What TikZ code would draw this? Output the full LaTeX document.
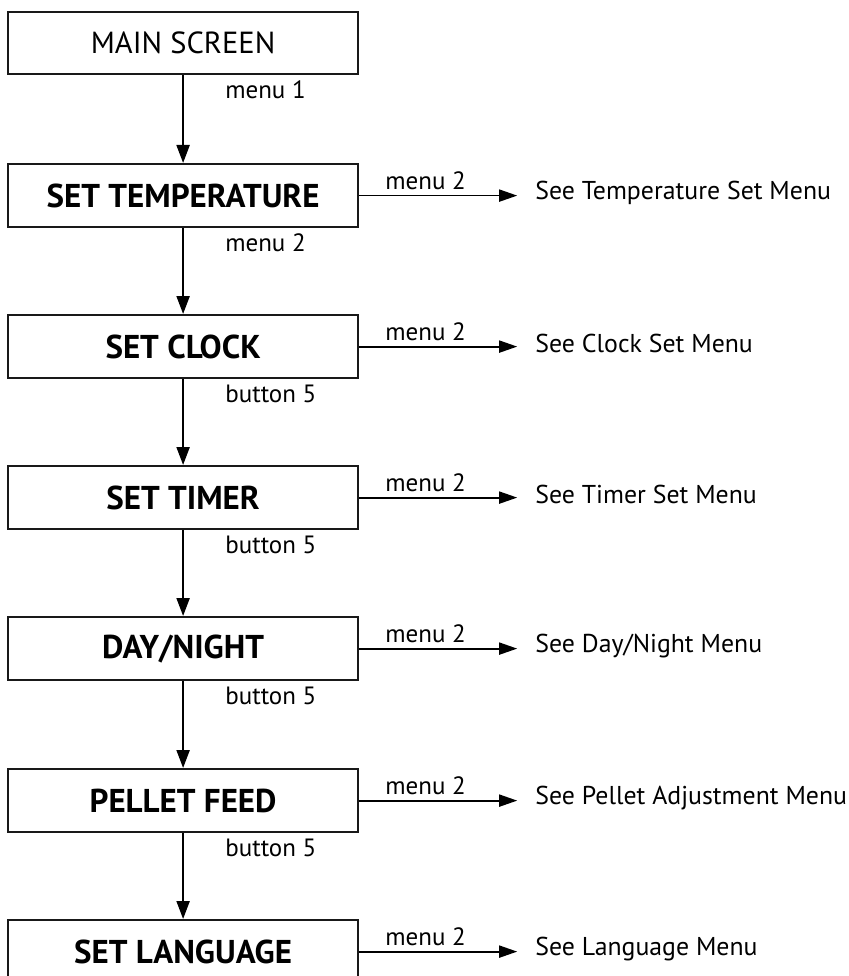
\documentclass[tikz,border=0pt]{standalone}
\usepackage{fontspec}
\setmainfont{PT Sans}
\usetikzlibrary{calc,arrows.meta}
\begin{document}
\begin{tikzpicture}[x=1pt,y=-1pt,
  stepbox/.style={draw=black!90, line width=2.2pt, minimum width=350pt, minimum height=63pt, inner sep=0pt, anchor=north west, font=\fontsize{33}{38}\selectfont\bfseries},
  mainbox/.style={stepbox, minimum height=62pt, font=\fontsize{30.5}{35}\selectfont},
  lab/.style={inner sep=0pt, anchor=base west, font=\fontsize{25}{28}\selectfont},
  side/.style={inner sep=0pt, anchor=west, font=\fontsize{25.8}{30}\selectfont},
  down/.style={line width=2.2pt, -{Triangle[length=18pt,width=13pt]}},
  right/.style={line width=1.8pt, -{Triangle[length=18pt,width=12pt]}, shorten >=18pt}
]
\useasboundingbox (0,0) rectangle (848,976);
\clip (0,0) rectangle (848,976);
\node[mainbox] (b0) at (7,11) {MAIN SCREEN};
\node[stepbox] (b1) at (7,163) {SET TEMPERATURE};
\node[stepbox] (b2) at (7,314) {SET CLOCK};
\node[stepbox] (b3) at (7,465) {SET TIMER};
\node[stepbox] (b4) at (7,616) {DAY/NIGHT};
\node[stepbox] (b5) at (7,768) {PELLET FEED};
\node[stepbox] (b6) at (7,919) {SET LANGUAGE};

\foreach \a/\b/\t in {b0/b1/menu 1,b1/b2/menu 2,b2/b3/button 5,b3/b4/button 5,b4/b5/button 5,b5/b6/button 5}{
  \draw[down] (\a.south) -- (\b.north);
  \node[lab] (l\a) at ($(\a.south)+(42,23)$) {\t};
}

\foreach \b/\t in {b1/{See Temperature Set Menu},b2/{See Clock Set Menu},b3/{See Timer Set Menu},b4/{See Day/Night Menu},b5/{See Pellet Adjustment Menu},b6/{See Language Menu}}{
  \node[side] (s\b) at ($(\b.east)+(176,-3)$) {\t};
  \draw[right] (\b.east) -- (\b.east -| s\b.west);
  \node[lab] (m\b) at ($(\b.east)+(26,-6)$) {menu 2};
}
\end{tikzpicture}
\end{document}
